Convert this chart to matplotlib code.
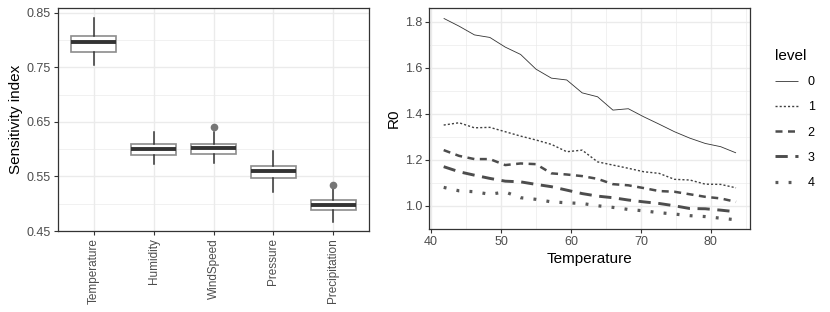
import matplotlib
matplotlib.use("Agg")
import matplotlib.pyplot as plt
from matplotlib.ticker import MultipleLocator, FixedLocator

plt.rcParams['font.family'] = ['Liberation Sans', 'DejaVu Sans']

# ---- Left panel data (box statistics) ----
variables = ["Temperature", "Humidity", "WindSpeed", "Pressure", "Precipitation"]
whisk_low = [0.755, 0.572, 0.574, 0.521, 0.467]
q1 = [0.778, 0.589, 0.591, 0.547, 0.489]
median = [0.797, 0.600, 0.602, 0.560, 0.497]
q3 = [0.808, 0.610, 0.610, 0.570, 0.506]
whisk_high = [0.841, 0.632, 0.632, 0.597, 0.531]
outliers = [[], [], [0.641], [], [0.535]]

# ---- Right panel data ----
temperature = [41.8, 44.0, 46.2, 48.4, 50.6, 52.8, 55.0, 57.2, 59.4, 61.6,
               63.8, 66.0, 68.2, 70.4, 72.6, 74.8, 77.0, 79.2, 81.4, 83.6]
levels = ["0", "1", "2", "3", "4"]
r0_level0 = [1.815, 1.781, 1.743, 1.732, 1.690, 1.658, 1.594, 1.555, 1.547, 1.491,
             1.474, 1.416, 1.422, 1.387, 1.355, 1.322, 1.294, 1.271, 1.257, 1.230]
r0_level1 = [1.351, 1.361, 1.339, 1.341, 1.322, 1.303, 1.286, 1.267, 1.235, 1.242,
             1.191, 1.177, 1.163, 1.148, 1.141, 1.115, 1.112, 1.094, 1.093, 1.078]
r0_level2 = [1.242, 1.217, 1.203, 1.203, 1.177, 1.184, 1.181, 1.141, 1.136, 1.129,
             1.117, 1.094, 1.089, 1.077, 1.064, 1.061, 1.050, 1.039, 1.032, 1.017]
r0_level3 = [1.170, 1.148, 1.133, 1.119, 1.107, 1.104, 1.093, 1.083, 1.068, 1.053,
             1.042, 1.035, 1.025, 1.017, 1.010, 1.000, 0.988, 0.987, 0.981, 0.974]
r0_level4 = [1.080, 1.065, 1.061, 1.050, 1.060, 1.035, 1.028, 1.017, 1.013, 1.010,
             1.000, 0.993, 0.984, 0.978, 0.970, 0.964, 0.957, 0.953, 0.946, 0.939]
series = [r0_level0, r0_level1, r0_level2, r0_level3, r0_level4]

W, H = 830, 312
fig = plt.figure(figsize=(W / 100, H / 100), dpi=100)

def ax_at(l, t, r, b):
    return fig.add_axes([l / W, 1 - b / H, (r - l) / W, (b - t) / H])

GRID = "#EBEBEB"
TICKC = "#4D4D4D"

def style(ax):
    ax.set_facecolor("white")
    for s in ax.spines.values():
        s.set_color("#333333")
        s.set_linewidth(0.9)
    ax.tick_params(which="major", length=3, width=0.8, color="#333333",
                   labelcolor=TICKC, labelsize=9, pad=2)
    ax.tick_params(which="minor", length=0)
    ax.grid(which="major", color=GRID, linewidth=1.0)
    ax.grid(which="minor", color=GRID, linewidth=0.5)
    ax.set_axisbelow(True)

# ---- Left: boxplot ----
ax1 = ax_at(58, 8, 369, 231)
style(ax1)
stats = []
for i, v in enumerate(variables):
    stats.append(dict(label=v, whislo=whisk_low[i], q1=q1[i], med=median[i],
                      q3=q3[i], whishi=whisk_high[i], fliers=outliers[i]))
pos = list(range(1, len(variables) + 1))
ax1.bxp(stats, positions=pos, widths=0.75, patch_artist=True,
        showcaps=False,
        boxprops=dict(facecolor="white", edgecolor="#8C8C8C", linewidth=1.2),
        medianprops=dict(color="#333333", linewidth=2.8, solid_capstyle="butt"),
        whiskerprops=dict(color="#333333", linewidth=1.1),
        flierprops=dict(marker="o", markerfacecolor="#777777", markeredgecolor="#777777",
                        markersize=4.5))
ax1.set_xlim(0.4, 5.6)
ax1.set_ylim(0.45, 0.859)
ax1.yaxis.set_major_locator(FixedLocator([0.45, 0.55, 0.65, 0.75, 0.85]))
ax1.yaxis.set_minor_locator(FixedLocator([0.50, 0.60, 0.70, 0.80]))
ax1.set_yticklabels(["0.45", "0.55", "0.65", "0.75", "0.85"])
ax1.set_xticks(pos)
ax1.set_xticklabels(variables, rotation=90, fontsize=8.5, color=TICKC)
ax1.set_ylabel("Sensitivity index", fontsize=11, color="black", labelpad=3)

# ---- Right: lines ----
ax2 = ax_at(429, 8, 750, 229)
style(ax2)
line_styles = [
    dict(linestyle="-", linewidth=0.6, color="#333333"),
    dict(linestyle=(0, (1.5, 1.5)), linewidth=1.0, color="#404040"),
    dict(linestyle=(0, (2.8, 2.2)), linewidth=1.8, color="#4D4D4D"),
    dict(linestyle=(0, (4.2, 2.6)), linewidth=2.1, color="#4D4D4D"),
    dict(linestyle=(0, (0.9, 3.2)), linewidth=2.3, color="#595959"),
]
handles = []
for lev, ys, st in zip(levels, series, line_styles):
    h, = ax2.plot(temperature, ys, label=lev, solid_capstyle="butt",
                  dash_capstyle="butt", **st)
    handles.append(h)
ax2.set_xlim(39.7, 85.6)
ax2.set_ylim(0.899, 1.86)
ax2.xaxis.set_major_locator(MultipleLocator(10))
ax2.xaxis.set_minor_locator(FixedLocator([45, 55, 65, 75, 85]))
ax2.yaxis.set_major_locator(FixedLocator([1.0, 1.2, 1.4, 1.6, 1.8]))
ax2.yaxis.set_minor_locator(FixedLocator([0.9, 1.1, 1.3, 1.5, 1.7]))
ax2.set_yticklabels(["1.0", "1.2", "1.4", "1.6", "1.8"])
ax2.set_xlabel("Temperature", fontsize=11, color="black", labelpad=3)
ax2.set_ylabel("R0", fontsize=11, color="black", labelpad=3)

leg = fig.legend(handles=handles, labels=levels, title="level",
                 loc="upper left", bbox_to_anchor=(764 / W, 1 - 38 / H),
                 frameon=False, fontsize=9, title_fontsize=11,
                 handlelength=1.8, handletextpad=0.8, labelspacing=1.05,
                 alignment="left")

fig.savefig("out.png", dpi=100)
